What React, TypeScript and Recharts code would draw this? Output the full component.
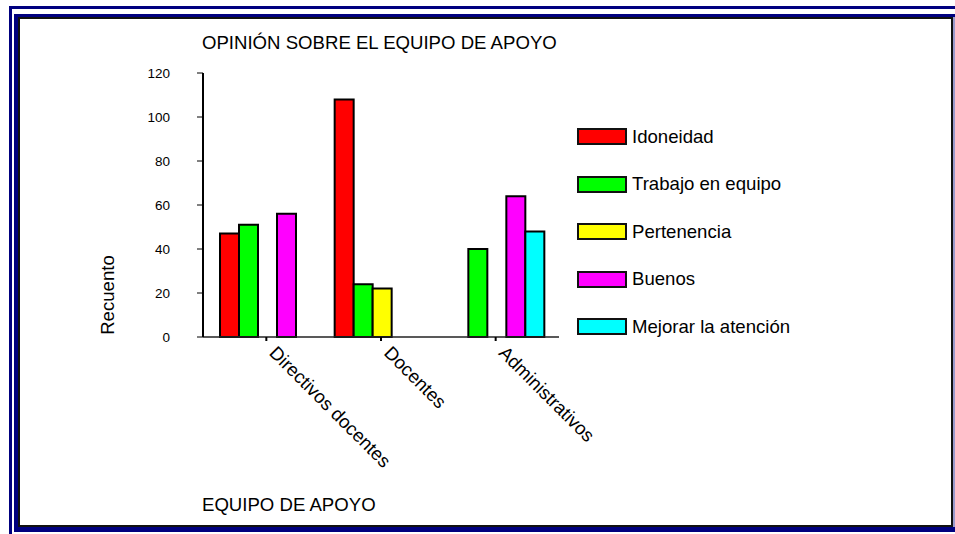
import React from "react";
import { BarChart, Bar, XAxis, YAxis } from "recharts";

const categories = ["Directivos docentes", "Docentes", "Administrativos"];
const idoneidad = [47, 108, 0];
const trabajoEnEquipo = [51, 24, 40];
const pertenencia = [0, 22, 0];
const buenos = [56, 0, 64];
const mejorarAtencion = [0, 0, 48];
const yTicks = [0, 20, 40, 60, 80, 100, 120];

const seriesDefs = [
  { key: "Idoneidad", values: idoneidad, color: "#ff0000" },
  { key: "Trabajo en equipo", values: trabajoEnEquipo, color: "#00ff00" },
  { key: "Pertenencia", values: pertenencia, color: "#ffff00" },
  { key: "Buenos", values: buenos, color: "#ff00ff" },
  { key: "Mejorar la atención", values: mejorarAtencion, color: "#00ffff" },
];

const data = categories.map((c, i) => {
  const row: any = { name: c };
  seriesDefs.forEach((s) => {
    row[s.key] = s.values[i];
  });
  return row;
});

const FONT = "'Liberation Sans', Arial, sans-serif";
const BIG = 18.6;

const XTick = (props: any) => {
  const { x, y, payload } = props;
  const bx = x + 2;
  const by = y + 13;
  return (
    <text
      x={bx}
      y={by}
      transform={`rotate(45, ${bx}, ${by})`}
      textAnchor="start"
      fontSize={BIG}
      fontFamily={FONT}
      fill="#000"
    >
      {payload.value}
    </text>
  );
};

const LegendBox = () => (
  <div
    style={{
      position: "absolute",
      left: 577,
      top: 113,
      width: 280,
      fontFamily: FONT,
    }}
  >
    {seriesDefs.map((s) => (
      <div
        key={s.key}
        style={{ display: "flex", alignItems: "center", height: 47.5 }}
      >
        <div
          style={{
            width: 50,
            height: 17,
            boxSizing: "border-box",
            background: s.color,
            border: "2px solid #111",
            marginRight: 5,
          }}
        />
        <span style={{ fontSize: BIG, color: "#000", whiteSpace: "nowrap" }}>
          {s.key}
        </span>
      </div>
    ))}
  </div>
);

export default function App() {
  const navy = "#00007f";
  return (
    <div
      style={{
        position: "absolute",
        left: 0,
        top: 0,
        width: 955,
        height: 534,
        background: "#fff",
        overflow: "hidden",
      }}
    >
      <div
        style={{
          position: "absolute",
          left: 9,
          top: 6,
          width: 946,
          height: 528,
          borderTop: `3px solid ${navy}`,
          borderLeft: `3px solid ${navy}`,
          boxSizing: "border-box",
        }}
      />
      <div
        style={{
          position: "absolute",
          left: 14,
          top: 14,
          width: 941,
          height: 518,
          background: navy,
        }}
      />
      <div
        style={{
          position: "absolute",
          left: 953,
          top: 17,
          width: 2,
          height: 510,
          background: "#9a9acc",
        }}
      />
      <div
        style={{
          position: "absolute",
          left: 18,
          top: 17,
          width: 935,
          height: 510,
          background: "#fff",
          border: "2px solid #111",
          boxSizing: "border-box",
        }}
      />
      <div
        style={{
          position: "absolute",
          left: 202,
          top: 32,
          fontFamily: FONT,
          fontSize: BIG,
          color: "#000",
          whiteSpace: "nowrap",
          lineHeight: "22px",
        }}
      >
        OPINIÓN SOBRE EL EQUIPO DE APOYO
      </div>
      <div
        style={{
          position: "absolute",
          left: 202,
          top: 494,
          fontFamily: FONT,
          fontSize: BIG,
          color: "#000",
          whiteSpace: "nowrap",
          lineHeight: "22px",
        }}
      >
        EQUIPO DE APOYO
      </div>
      <div
        style={{
          position: "absolute",
          left: 108,
          top: 295,
          fontFamily: FONT,
          fontSize: BIG,
          color: "#000",
          whiteSpace: "nowrap",
          lineHeight: "22px",
          transform: "translate(-50%, -50%) rotate(-90deg)",
        }}
      >
        Recuento
      </div>
      <LegendBox />
      <div style={{ position: "absolute", left: 0, top: 0 }}>
        <BarChart
          width={955}
          height={534}
          data={data}
          margin={{ top: 73, right: 396, bottom: 167, left: 0 }}
          barCategoryGap={11}
          barGap={0}
        >
          <XAxis
            dataKey="name"
            height={30}
            interval={0}
            padding={{ left: 6, right: 6 }}
            axisLine={{ stroke: "#222", strokeWidth: 1.5 }}
            tickLine={{ stroke: "#000", strokeWidth: 2 }}
            tickSize={4}
            tickMargin={0}
            tick={<XTick />}
          />
          <YAxis
            width={203}
            domain={[0, 120]}
            ticks={yTicks}
            interval={0}
            axisLine={{ stroke: "#000", strokeWidth: 2 }}
            tickLine={{ stroke: "#000", strokeWidth: 1 }}
            tickSize={6}
            tickMargin={27}
            tick={{ fontSize: 13.5, fontFamily: FONT, fill: "#000" }}
          />
          {seriesDefs.map((s) => (
            <Bar
              key={s.key}
              dataKey={s.key}
              name={s.key}
              fill={s.color}
              stroke="#000"
              strokeWidth={2}
              isAnimationActive={false}
            />
          ))}
        </BarChart>
      </div>
    </div>
  );
}
